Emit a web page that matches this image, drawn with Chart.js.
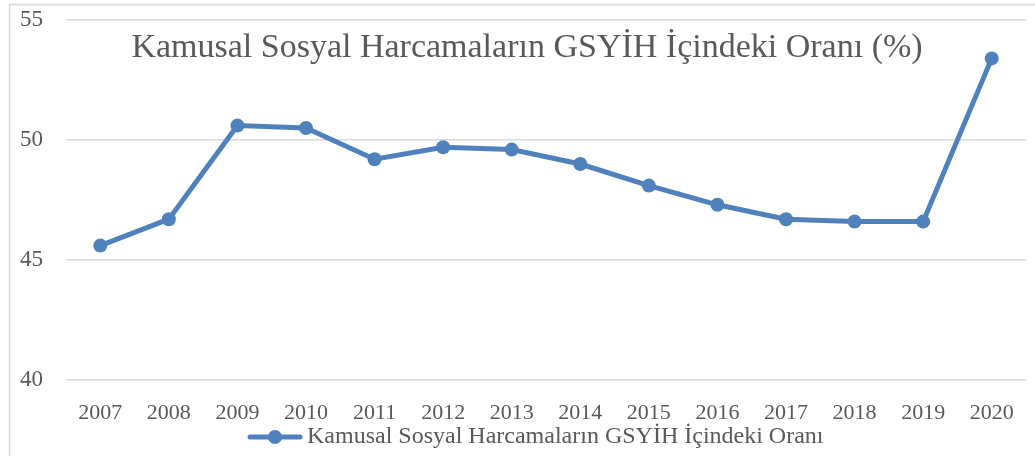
<!DOCTYPE html>
<html>
<head>
<meta charset="utf-8">
<script src="https://cdn.jsdelivr.net/npm/chart.js@4"></script>
<style>
    body { margin: 0; background: #fff; }
    #wrap { width: 1035px; height: 456px; position: relative; }
</style>
</head>
<body>
<div id="wrap"><canvas id="trendChart" width="1035" height="456"></canvas></div>
<script>
// Chart data
const years = ['2007', '2008', '2009', '2010', '2011', '2012', '2013', '2014', '2015', '2016', '2017', '2018', '2019', '2020'];
const ratio = [45.6, 46.7, 50.6, 50.5, 49.2, 49.7, 49.6, 49.0, 48.1, 47.3, 46.7, 46.6, 46.6, 53.4];
const yTicks = [40, 45, 50, 55];
const chartTitle = 'Kamusal Sosyal Harcamaların GSYİH İçindeki Oranı (%)';
const seriesName = 'Kamusal Sosyal Harcamaların GSYİH İçindeki Oranı';

const lineColor = '#4f81bd';
const textColor = '#595959';
const fontFamily = '"Liberation Serif", "DejaVu Serif", serif';

// Frame, title inside the plot and legend at the bottom
const decorations = {
    id: 'decorations',
    beforeDraw(chart) {
        const ctx = chart.ctx;
        ctx.save();
        ctx.strokeStyle = '#d9d9d9';
        ctx.lineWidth = 1.5;
        ctx.beginPath();
        ctx.moveTo(9.5, 470);
        ctx.lineTo(9.5, 4.5);
        ctx.lineTo(1040, 4.5);
        ctx.stroke();
        ctx.restore();
    },
    afterDraw(chart) {
        const ctx = chart.ctx;
        ctx.save();
        ctx.fillStyle = textColor;
        ctx.font = '34px ' + fontFamily;
        ctx.textAlign = 'center';
        ctx.textBaseline = 'middle';
        ctx.fillText(chartTitle, 527, 48);

        // legend
        const ly = 437;
        ctx.strokeStyle = lineColor;
        ctx.lineWidth = 5;
        ctx.lineCap = 'round';
        ctx.beginPath();
        ctx.moveTo(250, ly);
        ctx.lineTo(300, ly);
        ctx.stroke();
        ctx.fillStyle = lineColor;
        ctx.beginPath();
        ctx.arc(275, ly, 7, 0, Math.PI * 2);
        ctx.fill();
        ctx.fillStyle = textColor;
        ctx.font = '24px ' + fontFamily;
        ctx.textAlign = 'left';
        ctx.fillText(seriesName, 307, ly);
        ctx.restore();
    }
};

const ctx = document.getElementById('trendChart').getContext('2d');
const chart = new Chart(ctx, {
    type: 'line',
    data: {
        labels: years,
        datasets: [{
            label: seriesName,
            data: ratio,
            borderColor: lineColor,
            backgroundColor: lineColor,
            borderWidth: 5,
            pointRadius: 7,
            pointHoverRadius: 7,
            pointBorderWidth: 0,
            tension: 0.0
        }]
    },
    options: {
        responsive: false,
        animation: false,
        layout: { autoPadding: false, padding: { top: 20, right: 9, bottom: 0, left: 0 } },
        plugins: {
            legend: { display: false },
            title: { display: false },
            tooltip: { enabled: false }
        },
        scales: {
            x: {
                offset: true,
                grid: { display: false, drawTicks: false },
                border: { display: false },
                ticks: {
                    color: textColor,
                    font: { family: fontFamily, size: 22 },
                    padding: 20,
                    maxRotation: 0,
                    autoSkip: false
                },
                afterFit: s => { s.height = 76; }
            },
            y: {
                min: 40,
                max: 55,
                afterBuildTicks: s => { s.ticks = yTicks.map(v => ({ value: v })); },
                grid: { color: '#d9d9d9', lineWidth: 1.5, drawTicks: false },
                border: { display: false },
                ticks: {
                    color: textColor,
                    font: { family: fontFamily, size: 23 },
                    padding: 23
                },
                afterFit: s => { s.width = 66; s.paddingTop = 0; s.paddingBottom = 0; }
            }
        }
    },
    plugins: [decorations]
});
console.log(JSON.stringify(chart.chartArea));
</script>
</body>
</html>
